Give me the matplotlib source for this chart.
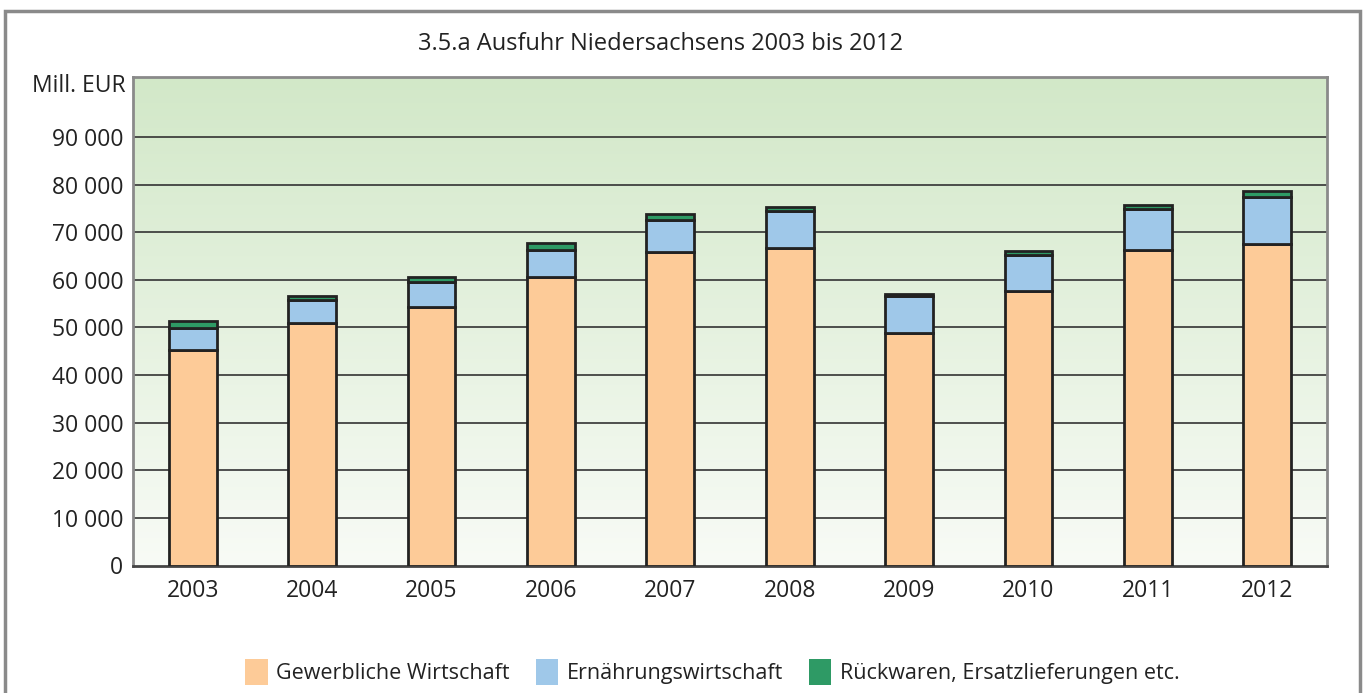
import numpy as np
import matplotlib
matplotlib.use("Agg")
import matplotlib.pyplot as plt
from matplotlib.patches import Rectangle

plt.rcParams['font.family'] = ['Open Sans', 'DejaVu Sans']

years = ["2003", "2004", "2005", "2006", "2007", "2008", "2009", "2010", "2011", "2012"]
gewerbliche = [45200, 50900, 54200, 60600, 65800, 66700, 48900, 57600, 66300, 67600]
ernaehrung = [4600, 4800, 5300, 5600, 6700, 7700, 7600, 7700, 8600, 9700]
rueckwaren = [1500, 900, 1100, 1500, 1400, 900, 500, 800, 900, 1400]
labels = ["Gewerbliche Wirtschaft", "Ernährungswirtschaft", "Rückwaren, Ersatzlieferungen etc."]
colors = ["#FDCB98", "#9FC8E9", "#2E9A65"]
yticks = [0, 10000, 20000, 30000, 40000, 50000, 60000, 70000, 80000, 90000]
ytick_labels = ["0", "10 000", "20 000", "30 000", "40 000", "50 000", "60 000", "70 000", "80 000", "90 000"]

W, H = 1365, 693
fig = plt.figure(figsize=(W / 100, H / 100), dpi=100)
ax = fig.add_axes([133 / W, 1 - 565.5 / H, (1327 - 133) / W, (565.5 - 76.5) / H])

ymax = 102700
ax.set_xlim(-0.5, len(years) - 0.5)
ax.set_ylim(0, ymax)

# gradient background
grad = np.linspace(0, 1, 256).reshape(-1, 1)
top = np.array([0xD2, 0xE8, 0xC8]) / 255
bot = np.array([0xF8, 0xFB, 0xF6]) / 255
img = bot + (top - bot) * grad[:, :, None]
ax.imshow(img, extent=[-0.5, len(years) - 0.5, 0, ymax], origin='lower', aspect='auto', zorder=0)

for yv in yticks[1:]:
    ax.axhline(yv, color="#333333", lw=1.2, zorder=1)

x = np.arange(len(years))
bw = 0.40
b1 = np.array(gewerbliche)
b2 = b1 + np.array(ernaehrung)
ax.bar(x, gewerbliche, bw, color=colors[0], edgecolor="#222222", lw=2, zorder=3, label=labels[0])
ax.bar(x, ernaehrung, bw, bottom=b1, color=colors[1], edgecolor="#222222", lw=2, zorder=3, label=labels[1])
ax.bar(x, rueckwaren, bw, bottom=b2, color=colors[2], edgecolor="#222222", lw=2, zorder=3, label=labels[2])

ax.set_yticks(yticks)
ax.set_yticklabels(ytick_labels)
ax.set_xticks(x)
ax.set_xticklabels(years)
ax.tick_params(axis='both', length=0, labelsize=16.5, colors="#222222")
ax.tick_params(axis='y', pad=7)
ax.tick_params(axis='x', pad=10)

for s in ["left", "top", "right"]:
    ax.spines[s].set_color("#8a8a8a")
    ax.spines[s].set_linewidth(2)
ax.spines["bottom"].set_color("#444444")
ax.spines["bottom"].set_linewidth(2)

fig.text(126 / W, 1 - 86 / H, "Mill. EUR", ha='right', va='center', fontsize=16.5, color="#222222")
fig.text(660 / W, 1 - 44 / H, "3.5.a Ausfuhr Niedersachsens 2003 bis 2012", ha='center', va='center',
         fontsize=17, color="#222222")

# outer frame
fig.patches.append(Rectangle((5 / W, -0.05), (1360 - 5) / W, 1.05 - 11 / H, transform=fig.transFigure,
                             fill=False, edgecolor="#8a8a8a", lw=2.5))

handles, lbls = ax.get_legend_handles_labels()
leg = fig.legend(handles, lbls, loc='center left', bbox_to_anchor=(245 / W, 1 - 672 / H), ncol=3, frameon=False,
                 fontsize=15.5, handlelength=1.05, handleheight=1.45, handletextpad=0.4, columnspacing=1.2,
                 borderaxespad=0, borderpad=0)
for h in leg.legend_handles:
    h.set_edgecolor('none')
for t in leg.get_texts():
    t.set_color("#222222")

fig.savefig("out.png", dpi=100)
